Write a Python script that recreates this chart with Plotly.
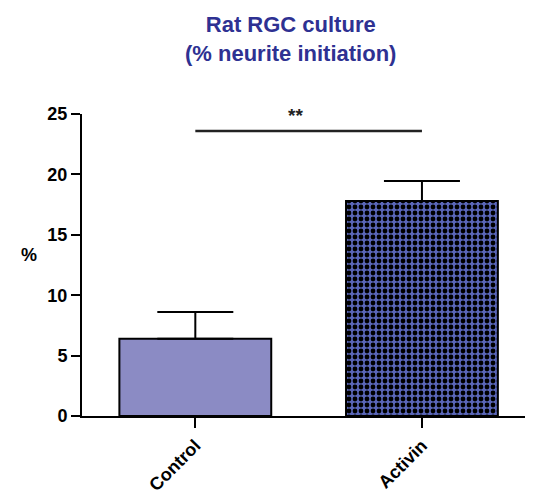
import plotly.graph_objects as go

categories = ["Control", "Activin"]
means = [6.4, 17.8]
sem = [2.2, 1.65]
y_ticks = [0, 5, 10, 15, 20, 25]
sig_level = 23.6
sig_label = "**"
title_lines = ["Rat RGC culture", "(% neurite initiation)"]

FONT = "Liberation Sans, Arial, sans-serif"
TITLE_COLOR = "#2e3192"
styles = [
    dict(color="#8b8bc4", pattern=dict(shape="")),
    dict(color="#5a66b8", pattern=dict(shape=".", fgcolor="black", bgcolor="#5a66b8",
                                       fgopacity=1, size=6, solidity=0.5, fillmode="replace")),
]

fig = go.Figure()
for i, cat in enumerate(categories):
    fig.add_trace(go.Bar(
        x=[cat],
        y=[means[i]],
        width=0.67,
        marker=dict(line=dict(color="black", width=2), **styles[i]),
        error_y=dict(type="data", symmetric=False, array=[sem[i]], arrayminus=[0],
                     color="black", thickness=2, width=38),
        showlegend=False,
    ))

fig.add_shape(type="line", xref="x", yref="y", x0=0, x1=1,
              y0=sig_level, y1=sig_level, line=dict(color="#222", width=2.5))
fig.add_annotation(x=0.5, y=sig_level, xref="x", yref="y", text="<b>" + sig_label + "</b>",
                   showarrow=False, yanchor="bottom", yshift=3, xshift=-13,
                   font=dict(family=FONT, size=19, color="#222"))

fig.add_annotation(x=0.463, y=1, xref="paper", yref="paper", yshift=104,
                   text="<b>" + title_lines[0] + "<br>" + title_lines[1] + "</b>",
                   showarrow=False, yanchor="top", align="center",
                   font=dict(family=FONT, size=22, color=TITLE_COLOR))

fig.add_annotation(x=-0.14, y=0.533, xref="paper", yref="paper", text="<b>%</b>",
                   showarrow=False, font=dict(family=FONT, size=18, color="black"))

fig.update_layout(
    width=533, height=500,
    margin=dict(l=74, r=8, t=106, b=92),
    paper_bgcolor="white", plot_bgcolor="white",
    barmode="overlay",
    font=dict(family=FONT, color="black"),
)
fig.update_xaxes(
    range=[-0.5, 1.49], showline=True, linecolor="black", linewidth=2,
    ticks="outside", ticklen=10, tickwidth=2, tickcolor="black",
    tickangle=-45, tickfont=dict(family=FONT, size=18, color="black"),
    showgrid=False, zeroline=False,
    categoryorder="array", categoryarray=categories,
    tickvals=categories, ticktext=["<b>" + c + "</b>" for c in categories],
)
fig.update_yaxes(
    range=[0, 25], showline=True, linecolor="black", linewidth=2,
    ticks="outside", ticklen=9, tickwidth=2, tickcolor="black",
    tickvals=y_ticks, ticktext=["<b>%d</b>" % v for v in y_ticks],
    tickfont=dict(family=FONT, size=18, color="black"),
    showgrid=False, zeroline=False,
)

fig.write_html("out.html")
